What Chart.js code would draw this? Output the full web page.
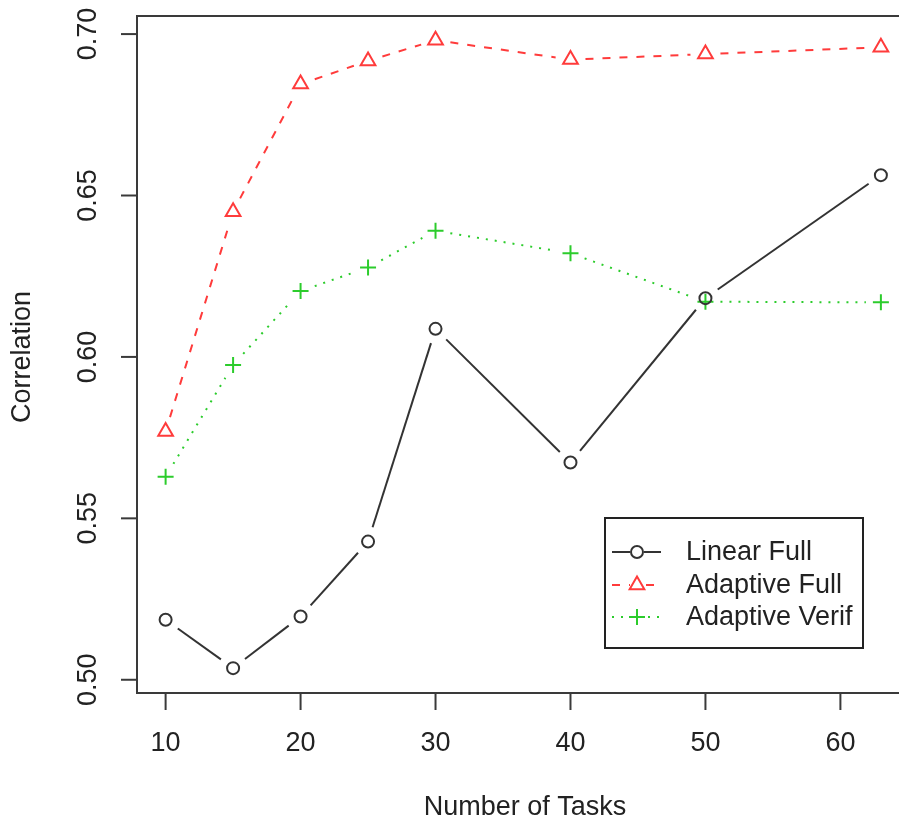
<!DOCTYPE html>
<html>
<head>
<meta charset="utf-8">
<script src="https://cdn.jsdelivr.net/npm/chart.js@4/dist/chart.umd.min.js"></script>
<style>
  html, body { margin: 0; padding: 0; background: #fff; }
  #wrap { width: 899px; height: 822px; overflow: hidden; }
</style>
</head>
<body>
<div id="wrap"><canvas id="c" width="920" height="822"></canvas></div>
<script>
// data
const tasks = [10, 15, 20, 25, 30, 40, 50, 63];
const linearFull = [0.5186, 0.5036, 0.5196, 0.5428, 0.6087, 0.5673, 0.6182, 0.6563];
const adaptiveFull = [0.5769, 0.6450, 0.6845, 0.6917, 0.6981, 0.6921, 0.6938, 0.6959];
const adaptiveVerif = [0.5629, 0.5975, 0.6204, 0.6277, 0.6391, 0.6321, 0.6171, 0.6169];
const seriesNames = ['Linear Full', 'Adaptive Full', 'Adaptive Verif'];
const xTicks = [10, 20, 30, 40, 50, 60];
const yTicks = [0.50, 0.55, 0.60, 0.65, 0.70];
const xLabel = 'Number of Tasks';
const yLabel = 'Correlation';

const FONT = '27px "Liberation Sans", Arial, sans-serif';
const INK = '#222';

const styles = [
  { color: '#333', dash: [], point: 'circle', radius: 6 },
  { color: '#ff3b3b', dash: [8, 9], point: 'triangle', radius: 8.5 },
  { color: '#2ccc2c', dash: [2, 7], point: 'cross', radius: 8 }
];

function makeSet(name, values, s) {
  return {
    label: name,
    data: tasks.map((t, i) => ({ x: t, y: values[i] })),
    showLine: false,
    pointStyle: s.point,
    pointRadius: s.radius,
    pointBorderColor: s.color,
    pointBackgroundColor: 'rgba(0,0,0,0)',
    pointBorderWidth: 2,
    clip: false
  };
}

// R style "b" lines: segments between points, with a gap around each point
const gapLines = {
  id: 'gapLines',
  beforeDatasetsDraw(chart) {
    const ctx = chart.ctx;
    const gap = 15;
    chart.data.datasets.forEach((ds, i) => {
      const pts = chart.getDatasetMeta(i).data;
      const s = styles[i];
      ctx.save();
      ctx.strokeStyle = s.color;
      ctx.lineWidth = 2;
      ctx.setLineDash(s.dash);
      for (let k = 0; k < pts.length - 1; k++) {
        const a = pts[k], b = pts[k + 1];
        const dx = b.x - a.x, dy = b.y - a.y;
        const len = Math.hypot(dx, dy);
        if (len <= 2 * gap) continue;
        const ux = dx / len, uy = dy / len;
        ctx.beginPath();
        ctx.moveTo(a.x + ux * gap, a.y + uy * gap);
        ctx.lineTo(b.x - ux * gap, b.y - uy * gap);
        ctx.stroke();
      }
      ctx.restore();
    });
  }
};

// box, axes, ticks, titles, legend
const frame = {
  id: 'frame',
  afterDraw(chart) {
    const ctx = chart.ctx;
    const a = chart.chartArea;
    const xs = chart.scales.x, ys = chart.scales.y;
    ctx.save();
    ctx.strokeStyle = '#3a3a3a';
    ctx.lineWidth = 2;
    ctx.setLineDash([]);
    ctx.strokeRect(a.left, a.top, a.right - a.left, a.bottom - a.top);

    ctx.fillStyle = INK;
    ctx.font = FONT;
    // x ticks
    ctx.textAlign = 'center';
    ctx.textBaseline = 'middle';
    xTicks.forEach(v => {
      const px = xs.getPixelForValue(v);
      ctx.beginPath();
      ctx.moveTo(px, a.bottom);
      ctx.lineTo(px, a.bottom + 17);
      ctx.stroke();
      ctx.fillText(String(v), px, 744);
    });
    // y ticks
    yTicks.forEach(v => {
      const py = ys.getPixelForValue(v);
      ctx.beginPath();
      ctx.moveTo(a.left - 16, py);
      ctx.lineTo(a.left, py);
      ctx.stroke();
      ctx.save();
      ctx.translate(89, py);
      ctx.rotate(-Math.PI / 2);
      ctx.fillText(v.toFixed(2), 0, 0);
      ctx.restore();
    });
    // axis titles
    ctx.fillText(xLabel, 525, 808);
    ctx.save();
    ctx.translate(23, 357);
    ctx.rotate(-Math.PI / 2);
    ctx.fillText(yLabel, 0, 0);
    ctx.restore();

    // legend
    const lx = 605, ly = 518, lw = 258, lh = 130;
    ctx.fillStyle = '#fff';
    ctx.fillRect(lx, ly, lw, lh);
    ctx.strokeStyle = '#222';
    ctx.strokeRect(lx, ly, lw, lh);
    const rows = [552, 585, 617];
    ctx.textAlign = 'left';
    chart.data.datasets.forEach((ds, i) => {
      const s = styles[i];
      const y = rows[i];
      ctx.strokeStyle = s.color;
      ctx.lineWidth = 2;
      ctx.setLineDash(s.dash);
      ctx.beginPath();
      ctx.moveTo(612, y);
      ctx.lineTo(661, y);
      ctx.stroke();
      ctx.setLineDash([]);
      ctx.fillStyle = '#fff';
      ctx.fillRect(630, y - 9, 14, 18);
      Chart.helpers.drawPoint(ctx, {
        pointStyle: s.point, radius: s.radius, borderWidth: 2, rotation: 0
      }, 637, y);
      ctx.fillStyle = INK;
      ctx.fillText(ds.label, 686, y + 1);
    });
    ctx.restore();
  }
};

new Chart(document.getElementById('c'), {
  type: 'scatter',
  data: {
    datasets: [
      makeSet(seriesNames[0], linearFull, styles[0]),
      makeSet(seriesNames[1], adaptiveFull, styles[1]),
      makeSet(seriesNames[2], adaptiveVerif, styles[2])
    ]
  },
  options: {
    responsive: false,
    animation: false,
    devicePixelRatio: 1,
    layout: { padding: { left: 137, top: 16, right: 9, bottom: 129 } },
    scales: {
      x: { type: 'linear', min: 7.88, max: 65.12, display: false },
      y: { type: 'linear', min: 0.4959, max: 0.7056, display: false }
    },
    plugins: {
      legend: { display: false },
      tooltip: { enabled: false }
    }
  },
  plugins: [gapLines, frame]
});
</script>
</body>
</html>
